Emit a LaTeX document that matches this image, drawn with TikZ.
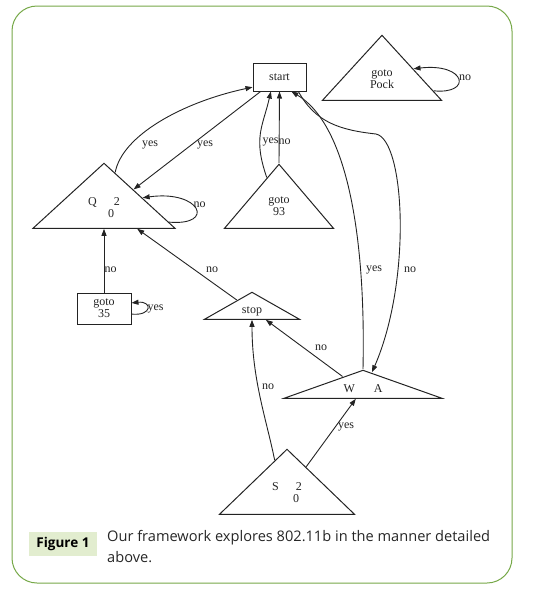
\documentclass[tikz,border=0pt]{standalone}
\usepackage{fontspec}
\setmainfont{Liberation Serif}
\newfontfamily\capfont{Open Sans}
\usepackage{tikz}
\usetikzlibrary{calc,arrows.meta,shapes.geometric}
\definecolor{FrameGreen}{RGB}{118,168,72}
\definecolor{TagGreen}{RGB}{226,237,207}
\definecolor{InkGray}{RGB}{35,35,35}
\tikzset{
  tri/.style={isosceles triangle,isosceles triangle stretches,shape border rotate=90,
    draw=InkGray,line width=1pt,inner sep=0pt},
  box/.style={rectangle,draw=InkGray,line width=1pt,inner sep=0pt,align=center,
    font=\fontsize{12}{12}\selectfont,text=InkGray},
  txt/.style={font=\fontsize{12}{12}\selectfont,align=center,inner sep=0pt,text=InkGray},
  lab/.style={font=\fontsize{12}{12}\selectfont,inner sep=0pt,text=InkGray},
  edge/.style={draw=InkGray,line width=0.9pt,-{Triangle[length=7pt,width=5pt]}},
}

\begin{document}
\begin{tikzpicture}[x=1pt,y=-1pt]
\useasboundingbox (0,0) rectangle (536,590);
\draw[FrameGreen,line width=1pt,rounded corners=25pt] (12,6) rectangle (512,583);
% states
\node[box,minimum width=53pt,minimum height=28pt] (start) at (279.5,77) {start};
\node[box,minimum width=54pt,minimum height=31pt] (B) at (104,308.5) {goto\\35};
\node[tri,minimum width=142pt,minimum height=65pt,anchor=apex] (Q) at (104,162) {};
\node[tri,minimum width=109pt,minimum height=64pt,anchor=apex] (G) at (279,163) {};
\node[tri,minimum width=119pt,minimum height=65pt,anchor=apex] (K) at (382,34) {};
\node[tri,minimum width=95pt,minimum height=27pt,anchor=apex] (P) at (252,291) {};
\node[tri,minimum width=158pt,minimum height=28pt,anchor=apex] (W) at (363,369) {};
\node[tri,minimum width=135pt,minimum height=65pt,anchor=apex] (S) at (287,448) {};
\node[txt] (Qtxt) at ($(Q.apex)!.68!(Q.lower side)$) {Q\hspace{17pt}2\\\hspace{14pt}0};
\node[txt] (Gtxt) at ($(G.apex)!.66!(G.lower side)$) {goto\\93};
\node[txt] (Ktxt) at ($(K.apex)!.68!(K.lower side)$) {goto\\Pock};
\node[txt] (Ptxt) at ($(P.apex)!.7!(P.lower side)$) {stop};
\node[txt] (Wtxt) at ($(W.apex)!.65!(W.lower side)$) {W\hspace{19pt}A};
\node[txt] (Stxt) at ($(S.apex)!.66!(S.lower side)$) {S\hspace{17pt}2\\\hspace{18pt}0};
% end points
\coordinate (q1) at ($(Q.apex)!.155!(Q.right corner)$);
\coordinate (q2) at ($(Q.apex)!.41!(Q.right corner)$);
\coordinate (q3) at ($(Q.apex)!.9!(Q.right corner)$);
\coordinate (q4) at ($(Q.apex)!.535!(Q.right corner)$);
\coordinate (q5) at ($(Q.left corner)!.73!(Q.right corner)$);
\coordinate (s1) at ($(start.west)!.7!(start.south west)$);
\coordinate (s2) at ($(start.south west)!.15!(start.south east)$);
\coordinate (s3) at ($(start.south west)!.34!(start.south east)$);
\coordinate (s4) at ($(start.south west)!.72!(start.south east)$);
\coordinate (s5) at ($(start.south west)!.85!(start.south east)$);
\coordinate (g1) at ($(G.apex)!.22!(G.left corner)$);
\coordinate (b1) at ($(B.east)!.35!(B.south east)$);
\coordinate (b2) at ($(B.east)!.35!(B.north east)$);
\coordinate (p1) at ($(P.apex)!.31!(P.left corner)$);
\coordinate (p2) at ($(P.left corner)!.64!(P.right corner)$);
\coordinate (w2) at ($(W.apex)!.11!(W.right corner)$);
\coordinate (w3) at ($(W.apex)!.25!(W.left corner)$);
\coordinate (w4) at ($(W.left corner)!.456!(W.right corner)$);
\coordinate (wbend) at (376,134);
\coordinate (t1) at ($(S.apex)!.18!(S.left corner)$);
\coordinate (t2) at ($(S.apex)!.28!(S.right corner)$);
\coordinate (k1) at ($(K.apex)!.85!(K.right corner)$);
\coordinate (k2) at ($(K.apex)!.52!(K.right corner)$);
% transitions
\draw[edge] (q1) .. controls +(7,-37) and +(-70,15) .. (s1);
\draw[edge] (s2) -- (q2);
\draw[edge] (g1) .. controls +(-14,-40) and +(-8,35) .. (s3);
\draw[edge] (G.apex) -- (start.south);
\draw[edge] (q3) .. controls +(47,4) and +(58,-8) .. (q4);
\draw[edge] (B.north) -- (Q.lower side);
\draw[edge] (b1) .. controls +(21,2) and +(21,-2) .. (b2);
\draw[edge] (p1) -- (q5);
\draw[edge] (W.apex) .. controls +(3,-139) and +(54,32) .. (s4);
\draw[edge] (s5) .. controls +(17,31) and +(-36,-4) .. (wbend)
  .. controls +(29,6) and +(40,-92) .. (w2);
\draw[edge] (w3) -- (p2);
\draw[edge] (t1) .. controls +(-8,-40) and +(0,60) .. (P.lower side);
\draw[edge] (t2) -- (w4);
\draw[edge] (k1) .. controls +(39,4) and +(53,-6) .. (k2);
% labels
\node[lab] (l1) at (150,145) {yes};
\node[lab] (l2) at (205,145) {yes};
\node[lab] (l3) at (270.5,142) {yes};
\node[lab] (l4) at (284.5,142) {no};
\node[lab] (l5) at (199.5,205) {no};
\node[lab] (l6) at (110.5,270) {no};
\node[lab] (l7) at (155.5,309) {yes};
\node[lab] (l8) at (212,270) {no};
\node[lab] (l9) at (374,270) {yes};
\node[lab] (l10) at (410,270) {no};
\node[lab] (l11) at (321,348) {no};
\node[lab] (l12) at (268,387) {no};
\node[lab] (l13) at (346,427) {yes};
\node[lab] (l14) at (465,78) {no};
% caption
\node[fill=TagGreen,minimum width=68pt,minimum height=24pt,inner sep=0pt,
  font=\capfont\bfseries\fontsize{13.5}{15}\selectfont] (fig) at (63,544) {Figure 1};
\node[anchor=north west,align=left,inner sep=0pt,text=black!85,
  font=\capfont\fontsize{14.6}{21}\selectfont] (cap) at (107,530)
  {Our framework explores 802.11b in the manner detailed\\above.};
\end{tikzpicture}
\end{document}
